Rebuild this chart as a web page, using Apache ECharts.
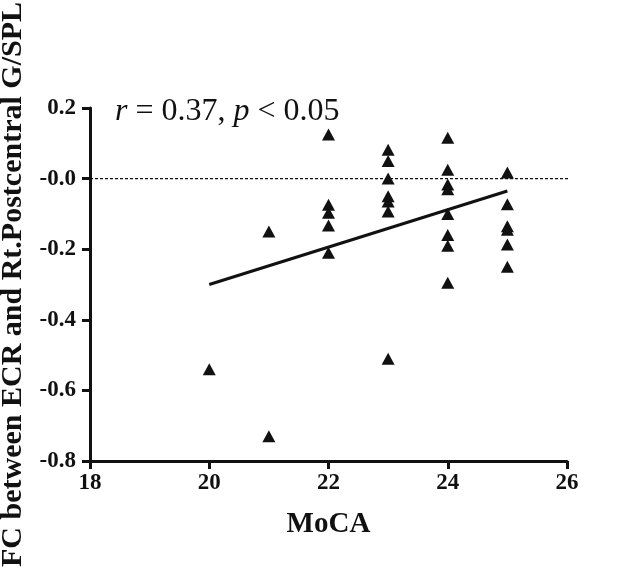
<!DOCTYPE html>
<html><head><meta charset="utf-8">
<script src="https://cdn.jsdelivr.net/npm/echarts@6/dist/echarts.min.js"></script>
<style>html,body{margin:0;padding:0;background:#fff}#c{width:630px;height:568px}</style>
</head><body><div id="c"></div>
<script>
const mocaValues = [20, 21, 21, 22, 22, 22, 22, 22, 23, 23, 23, 23, 23, 23, 23, 24, 24, 24, 24, 24, 24, 24, 24, 25, 25, 25, 25, 25, 25];
const fcValues = [-0.54, -0.15, -0.73, 0.125, -0.074, -0.097, -0.133, -0.21, 0.082, 0.05, 0.0, -0.05, -0.065, -0.093, -0.51, 0.116, 0.025, -0.017, -0.03, -0.10, -0.16, -0.19, -0.295, 0.017, -0.073, -0.135, -0.145, -0.187, -0.25];
const fitX = [20, 25];
const fitY = [-0.30, -0.035];
const refLineX = [18, 26.8];
const refLineY = [0, 0];
const xTicks = [18, 20, 22, 24, 26];
const yTicks = [-0.8, -0.6, -0.4, -0.2, 0, 0.2];
const annotation = "{i|r} = 0.37, {i|p} < 0.05";
const xName = "MoCA";
const yName = "FC between ECR and Rt.Postcentral G/SPL";

const chart = echarts.init(document.getElementById('c'), null, {renderer: 'canvas'});
const font = '"Liberation Serif", "Times New Roman", serif';
const ink = '#111';
const axisCommon = {
  axisLine: {show: true, onZero: false, lineStyle: {color: ink, width: 3}},
  axisTick: {show: true, inside: false, length: 8, lineStyle: {color: ink, width: 3}},
  splitLine: {show: false},
  axisLabel: {color: ink, fontFamily: font, fontWeight: 'bold', fontSize: 23}
};
chart.setOption({
  backgroundColor: '#fff',
  animation: false,
  title: {
    text: annotation, left: 110, top: 91,
    textStyle: {fontFamily: font, fontSize: 32, fontWeight: 'normal', color: ink,
      rich: {i: {fontFamily: font, fontSize: 32, fontStyle: 'italic', color: ink}}}
  },
  grid: {left: 90, right: 63, top: 108, bottom: 107, containLabel: false, outerBoundsMode: 'none'},
  xAxis: Object.assign({}, axisCommon, {
    type: 'value', min: xTicks[0], max: xTicks[xTicks.length - 1], interval: 2,
    name: xName, nameLocation: 'middle', nameGap: 49,
    nameTextStyle: {fontFamily: font, fontWeight: 'bold', fontSize: 29, color: ink},
    axisLabel: Object.assign({}, axisCommon.axisLabel, {margin: 11})
  }),
  yAxis: Object.assign({}, axisCommon, {
    type: 'value', min: yTicks[0], max: yTicks[yTicks.length - 1], interval: 0.2,
    name: yName, nameLocation: 'middle', nameGap: 51, nameRotate: 90,
    nameTextStyle: {fontFamily: font, fontWeight: 'bold', fontSize: 30, color: ink},
    axisLabel: Object.assign({}, axisCommon.axisLabel, {
      margin: 14,
      formatter: v => (Math.abs(v) < 1e-9 ? '-0.0' : v.toFixed(1))
    })
  }),
  series: [
    {
      type: 'line', symbol: 'none', clip: false, silent: true,
      lineStyle: {color: ink, width: 1.2, type: [3, 2]},
      data: refLineX.map((x, i) => [x, refLineY[i]]), z: 1
    },
    {
      type: 'line', symbol: 'none',
      lineStyle: {color: ink, width: 3},
      data: fitX.map((x, i) => [x, fitY[i]]), z: 2
    },
    {
      type: 'scatter', symbol: 'triangle', symbolSize: [13, 12],
      itemStyle: {color: ink, opacity: 1},
      data: mocaValues.map((m, i) => [m, fcValues[i]]),
      z: 3
    }
  ]
});
</script></body></html>
